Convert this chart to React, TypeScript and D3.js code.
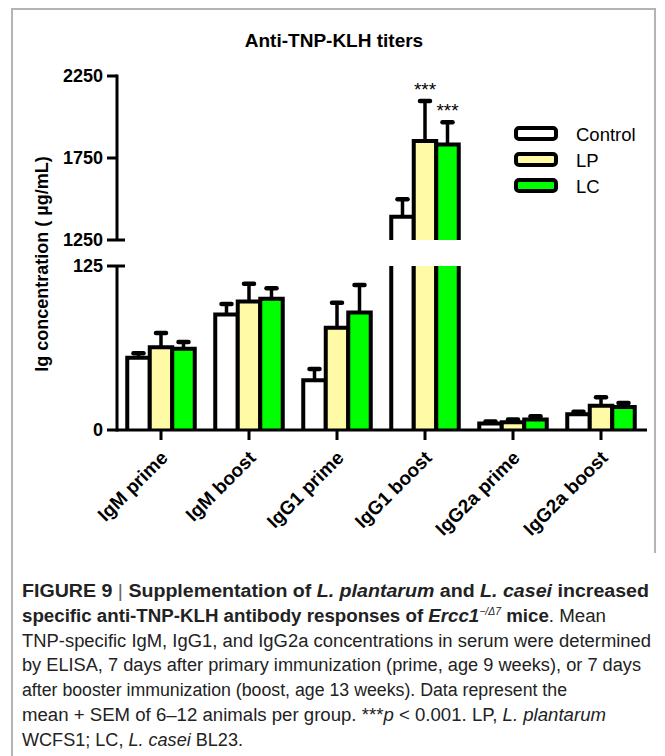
import React from "react";
import * as d3 from "d3";

const categories = ["IgM prime", "IgM boost", "IgG1 prime", "IgG1 boost", "IgG2a prime", "IgG2a boost"];
const seriesNames = ["Control", "LP", "LC"];
const seriesColors = ["#ffffff", "#fffaa6", "#00ff00"];
const controlMeans = [55, 88, 38, 1392, 5, 12];
const controlSems = [3.5, 8, 8.5, 106, 1.5, 2];
const lpMeans = [63, 98, 78, 1854, 6, 18.5];
const lpSems = [11, 13.5, 19, 244, 2, 6.5];
const lcMeans = [62, 100, 89.5, 1833, 8, 17.5];
const lcSems = [5, 8, 21, 135, 2.5, 3];
const significance = [["", "", "", "", "", ""], ["", "", "", "***", "", ""], ["", "", "", "***", "", ""]];
const lowTicks = [0, 125];
const highTicks = [1250, 1750, 2250];

const FONT = "'Liberation Sans', Arial, sans-serif";

export default function App() {
  const means = [controlMeans, lpMeans, lcMeans];
  const sems = [controlSems, lpSems, lcSems];

  const x = d3.scaleBand<string>().domain(categories).range([117, 645]);
  const xs = d3.scaleBand<string>().domain(seriesNames).range([-33.75, 33.75]);
  const yLow = d3.scaleLinear().domain([0, 125]).range([430, 266]);
  const yHigh = d3.scaleLinear().domain([1250, 2250]).range([240, 76]);
  const breakLow = 125;
  const breakHigh = 1250;
  const axisX = 117;
  const bw = xs.bandwidth();
  const sw = 4;

  const bars: React.ReactNode[] = [];
  const errs: React.ReactNode[] = [];
  categories.forEach((cat, ci) => {
    const cx = (x(cat) as number) + x.bandwidth() / 2;
    seriesNames.forEach((s, si) => {
      const v = means[si][ci];
      const e = sems[si][ci];
      const x0 = cx + (xs(s) as number);
      const fill = seriesColors[si];
      const key = `${ci}-${si}`;
      const y0 = yLow(0);
      if (v <= breakLow) {
        const yt = yLow(v);
        bars.push(
          <g key={key}>
            <rect x={x0} y={yt} width={bw} height={y0 - yt} fill={fill} />
            <path d={`M${x0},${y0}V${yt}H${x0 + bw}V${y0}`} fill="none" stroke="#000" strokeWidth={sw} strokeLinejoin="miter" />
          </g>
        );
      } else {
        const yb = yLow(breakLow);
        const yt = yHigh(v);
        const yhb = yHigh(breakHigh);
        bars.push(
          <g key={key}>
            <rect x={x0} y={yb} width={bw} height={y0 - yb} fill={fill} />
            <path d={`M${x0},${y0}V${yb}M${x0 + bw},${yb}V${y0}`} fill="none" stroke="#000" strokeWidth={sw} />
            <rect x={x0} y={yt} width={bw} height={yhb - yt} fill={fill} />
            <path d={`M${x0},${yhb}V${yt}H${x0 + bw}V${yhb}`} fill="none" stroke="#000" strokeWidth={sw} />
          </g>
        );
      }
      const sc = v > breakLow ? yHigh : yLow;
      const bx = x0 + bw / 2;
      const yv = sc(v);
      const ye = sc(v + e);
      errs.push(
        <g key={key}>
          <line x1={bx} x2={bx} y1={yv} y2={ye} stroke="#000" strokeWidth={3.5} />
          <line x1={bx - 5} x2={bx + 5} y1={ye} y2={ye} stroke="#000" strokeWidth={4.5} strokeLinecap="round" />
          {significance[si][ci] ? (
            <text x={bx} y={ye - 5} textAnchor="middle" fontSize={19} fontFamily={FONT} fill="#000">
              {significance[si][ci]}
            </text>
          ) : null}
        </g>
      );
    });
  });

  const captionX = 22;
  const captionY0 = 597;
  const lh = 24.8;

  return (
    <svg width={665} height={756} style={{ position: "absolute", left: 0, top: 0, background: "#fff" }} fontFamily={FONT}>
      <rect x={0} y={0} width={665} height={756} fill="#fff" />
      <path d="M12,756V9H655V553" fill="none" stroke="#b4b4b4" strokeWidth={2} />

      <text x={334} y={47} textAnchor="middle" fontSize={19} fontWeight="bold">Anti-TNP-KLH titers</text>

      <text transform={`translate(48,264) rotate(-90)`} textAnchor="middle" fontSize={18} fontWeight="bold">
        Ig concentration ( µg/mL)
      </text>

      {bars}
      {errs}

      <g stroke="#000" strokeWidth={3} fill="none">
        <line x1={axisX} x2={axisX} y1={yLow(0) + 1.5} y2={yLow(125)} />
        <line x1={axisX} x2={axisX} y1={yHigh(1250)} y2={yHigh(2250) - 1.5} />
        {lowTicks.map((t) => (
          <line key={"lt" + t} x1={axisX - 10} x2={t === 125 ? axisX + 8 : axisX} y1={yLow(t)} y2={yLow(t)} />
        ))}
        {highTicks.map((t) => (
          <line key={"ht" + t} x1={axisX - 10} x2={t === 1250 ? axisX + 8 : axisX} y1={yHigh(t)} y2={yHigh(t)} />
        ))}
        <line x1={axisX} x2={647} y1={yLow(0)} y2={yLow(0)} />
        {categories.map((c) => {
          const cx = (x(c) as number) + x.bandwidth() / 2;
          return <line key={"xt" + c} x1={cx} x2={cx} y1={yLow(0)} y2={yLow(0) + 10} />;
        })}
      </g>
      <g fontSize={18} fontWeight="bold" textAnchor="end">
        {lowTicks.map((t) => (
          <text key={"ltl" + t} x={103} y={yLow(t)} dy="0.36em">{t}</text>
        ))}
        {highTicks.map((t) => (
          <text key={"htl" + t} x={103} y={yHigh(t)} dy="0.36em">{t}</text>
        ))}
      </g>

      <g fontSize={19} fontWeight="bold" textAnchor="end">
        {categories.map((c) => {
          const cx = (x(c) as number) + x.bandwidth() / 2;
          return (
            <text key={"xl" + c} transform={`translate(${cx + 8},${459}) rotate(-45)`}>{c}</text>
          );
        })}
      </g>

      {seriesNames.map((s, i) => (
        <g key={"lg" + s}>
          <rect x={516} y={128 + i * 26} width={40} height={11} rx={3} fill={seriesColors[i]} stroke="#000" strokeWidth={4} />
          <text x={576} y={134 + i * 26} dy="0.36em" fontSize={18.5}>{s}</text>
        </g>
      ))}

      <g fontSize={18} fill="#222">
        <text x={captionX} y={captionY0} textLength={627} lengthAdjust="spacingAndGlyphs" fontWeight="bold">
          FIGURE 9 <tspan fontWeight="normal" fill="#666">|</tspan> Supplementation of <tspan fontStyle="italic">L. plantarum</tspan> and <tspan fontStyle="italic">L. casei</tspan> increased
        </text>
        <text x={captionX} y={captionY0 + lh} textLength={584} lengthAdjust="spacingAndGlyphs">
          <tspan fontWeight="bold">specific anti-TNP-KLH antibody responses of </tspan>
          <tspan fontWeight="bold" fontStyle="italic">Ercc1</tspan>
          <tspan fontStyle="italic" fontSize={10} dy={-7}>−/Δ7</tspan>
          <tspan fontWeight="bold" dy={7}> mice</tspan>. Mean
        </text>
        <text x={captionX} y={captionY0 + lh * 2} textLength={629} lengthAdjust="spacingAndGlyphs">
          TNP-specific IgM, IgG1, and IgG2a concentrations in serum were determined
        </text>
        <text x={captionX} y={captionY0 + lh * 3} textLength={619} lengthAdjust="spacingAndGlyphs">
          by ELISA, 7 days after primary immunization (prime, age 9 weeks), or 7 days
        </text>
        <text x={captionX} y={captionY0 + lh * 4} textLength={545} lengthAdjust="spacingAndGlyphs">
          after booster immunization (boost, age 13 weeks). Data represent the
        </text>
        <text x={captionX} y={captionY0 + lh * 5} textLength={584} lengthAdjust="spacingAndGlyphs">
          mean + SEM of 6–12 animals per group. ***<tspan fontStyle="italic">p</tspan> &lt; 0.001. LP, <tspan fontStyle="italic">L. plantarum</tspan>
        </text>
        <text x={captionX} y={captionY0 + lh * 6} textLength={221} lengthAdjust="spacingAndGlyphs">
          WCFS1; LC, <tspan fontStyle="italic">L. casei</tspan> BL23.
        </text>
      </g>
    </svg>
  );
}
